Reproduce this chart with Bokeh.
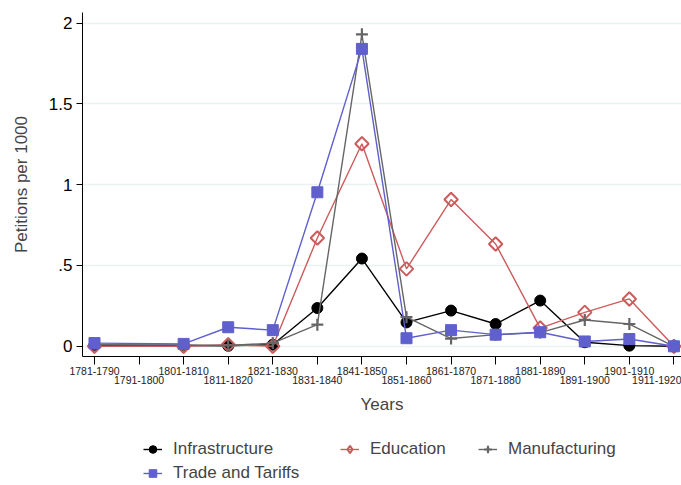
import math
from bokeh.plotting import figure
from bokeh.models import FixedTicker, Range1d, Legend, LegendItem, LinearAxis
from bokeh.layouts import column
from bokeh.embed import file_html
from bokeh.resources import INLINE

decades = ["1781-1790", "1791-1800", "1801-1810", "1811-1820", "1821-1830",
           "1831-1840", "1841-1850", "1851-1860", "1861-1870", "1871-1880",
           "1881-1890", "1891-1900", "1901-1910", "1911-1920"]
observed = ["1781-1790", "1801-1810", "1811-1820", "1821-1830", "1831-1840",
            "1841-1850", "1851-1860", "1861-1870", "1871-1880", "1881-1890",
            "1891-1900", "1901-1910", "1911-1920"]

infrastructure = [0.005, 0.005, 0.003, 0.01, 0.237, 0.543, 0.148, 0.221, 0.138, 0.283, 0.025, 0.004, 0.0]
education = [0.0, 0.0, 0.01, 0.0, 0.67, 1.253, 0.479, 0.908, 0.633, 0.113, 0.21, 0.293, 0.0]
manufacturing = [0.01, 0.008, 0.005, 0.02, 0.134, 1.93, 0.18, 0.048, 0.072, 0.085, 0.163, 0.138, 0.0]
trade = [0.02, 0.015, 0.118, 0.10, 0.953, 1.84, 0.05, 0.1, 0.072, 0.087, 0.03, 0.045, 0.0]

series_names = ["Infrastructure", "Education", "Manufacturing", "Trade and Tariffs"]

y_ticks = [0, 0.5, 1, 1.5, 2]
y_labels = ["0", ".5", "1", "1.5", "2"]

xs = [decades.index(d) for d in observed]
all_ticks = list(range(len(decades)))
odd_ticks = [i for i in all_ticks if i % 2 == 1]

FONT = "Liberation Sans"
BLACK = "black"
RED = "#cc5c5c"
GRAY = "#666666"
BLUE = "#5f5fcd"

p = figure(width=681, height=425, output_backend="svg", toolbar_location=None,
           x_range=Range1d(-0.269, 13.17), y_range=Range1d(-0.063, 2.065),
           min_border_left=82, min_border_right=0, min_border_top=12,
           min_border_bottom=69, x_axis_location=None)
p.outline_line_color = None
p.background_fill_color = "white"
p.border_fill_color = "white"

p.xgrid.grid_line_color = None
p.ygrid.grid_line_color = "#eaf2f3"
p.ygrid.grid_line_width = 1.5
p.ygrid.ticker = FixedTicker(ticks=y_ticks)

# y axis
p.yaxis.ticker = FixedTicker(ticks=y_ticks)
p.yaxis.major_label_overrides = {float(t): l for t, l in zip(y_ticks, y_labels)}
p.yaxis.minor_tick_line_color = None
p.yaxis.major_tick_in = 0
p.yaxis.major_tick_out = 6
p.yaxis.major_label_standoff = 4
p.yaxis.major_label_text_font = FONT
p.yaxis.major_label_text_font_size = "17px"
p.yaxis.major_label_text_color = "black"
p.yaxis.axis_line_color = "black"
p.yaxis.major_tick_line_color = "black"
p.yaxis.axis_label = "Petitions per 1000"
p.yaxis.axis_label_text_font = FONT
p.yaxis.axis_label_text_font_style = "normal"
p.yaxis.axis_label_text_font_size = "17px"
p.yaxis.axis_label_standoff = 15

# x axis: top row (even labels) with all ticks
ax1 = LinearAxis(ticker=FixedTicker(ticks=all_ticks),
                 major_label_overrides={i: (d if i % 2 == 0 else "") for i, d in enumerate(decades)})
# x axis: bottom row (odd labels), no line or ticks
ax2 = LinearAxis(ticker=FixedTicker(ticks=odd_ticks),
                 major_label_overrides={i: decades[i] for i in odd_ticks})
for ax in (ax1, ax2):
    ax.minor_tick_line_color = None
    ax.major_tick_in = 0
    ax.major_label_text_font = FONT
    ax.major_label_text_font_size = "10.5px"
    ax.major_label_text_color = "#222222"
ax1.major_tick_out = 8
ax1.major_label_standoff = 2
ax1.axis_line_color = "black"
ax1.major_tick_line_color = "black"
ax2.major_tick_out = 0
ax2.major_tick_line_color = None
ax2.axis_line_color = None
ax2.major_label_standoff = -2
ax2.axis_label = "Years"
ax2.axis_label_text_font = FONT
ax2.axis_label_text_font_style = "normal"
ax2.axis_label_text_font_size = "17px"
ax2.axis_label_standoff = 8
p.add_layout(ax1, "below")
p.add_layout(ax2, "below")

styles = [
    dict(color=BLACK, marker="circle", size=11, fill=BLACK, lw=1.0, angle=0.0,
         leg_marker="circle", leg_size=9),
    dict(color=RED, marker="square", size=9.5, fill=None, lw=2.0, angle=math.pi / 4,
         leg_marker="diamond", leg_size=12),
    dict(color=GRAY, marker="cross", size=12, fill=None, lw=2.2, angle=0.0,
         leg_marker="cross", leg_size=10),
    dict(color=BLUE, marker="square", size=11, fill=BLUE, lw=1.0, angle=0.0,
         leg_marker="square", leg_size=9),
]
values = [infrastructure, education, manufacturing, trade]

for vals, st in zip(values, styles):
    p.line(xs, vals, line_color=st["color"], line_width=1.4)
    p.scatter(xs, vals, marker=st["marker"], size=st["size"], fill_color=st["fill"],
              line_color=st["color"], line_width=st["lw"], angle=st["angle"])

# legend strip below the chart (its own data lies outside its view)
p2 = figure(width=681, height=60, output_backend="svg", toolbar_location=None,
            x_range=Range1d(100, 101), y_range=Range1d(100, 101),
            x_axis_location=None, y_axis_location=None,
            min_border_left=82, min_border_right=0, min_border_top=0, min_border_bottom=0)
p2.outline_line_color = None
p2.xgrid.grid_line_color = None
p2.ygrid.grid_line_color = None
p2.background_fill_color = "white"
p2.border_fill_color = "white"

items = []
for name, vals, st in zip(series_names, values, styles):
    lr = p2.line(xs, vals, line_color=st["color"], line_width=1.4)
    mr = p2.scatter(xs, vals, marker=st["leg_marker"], size=st["leg_size"], fill_color=st["fill"],
                    line_color=st["color"], line_width=st["lw"])
    items.append(LegendItem(label=name, renderers=[lr, mr]))


def make_legend(its, loc):
    lg = Legend(items=its, location=loc)
    lg.border_line_color = None
    lg.background_fill_color = None
    lg.label_text_font = FONT
    lg.label_text_font_size = "17px"
    lg.label_standoff = 11
    lg.glyph_width = 19
    lg.glyph_height = 20
    lg.label_height = 20
    lg.spacing = 4
    lg.padding = 0
    lg.margin = 0
    return lg


p2.add_layout(make_legend([items[0], items[3]], (61, 2)))
p2.add_layout(make_legend([items[1]], (258, 26)))
p2.add_layout(make_legend([items[2]], (396, 26)))

layout = column(p, p2, spacing=0)
open("out.html", "w").write(file_html(layout, INLINE))
